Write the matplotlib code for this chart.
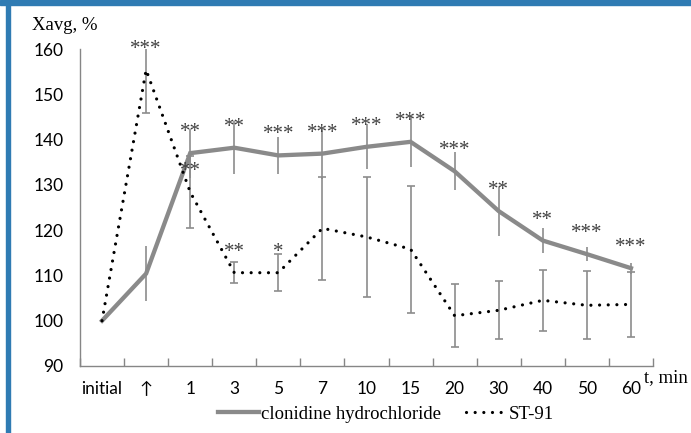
import numpy as np
import matplotlib
matplotlib.use("Agg")
import matplotlib.pyplot as plt
from matplotlib.patches import Rectangle

# ---- data ----
categories = ["initial", "\u2191", "1", "3", "5", "7", "10", "15", "20", "30", "40", "50", "60"]
clon_mean = [100, 110.4, 137.0, 138.2, 136.5, 136.9, 138.4, 139.5, 133.0, 124.2, 117.7, 114.7, 111.6]
clon_err = [0, 6.0, 5.4, 5.8, 4.1, 5.5, 5.0, 5.6, 4.2, 5.4, 2.7, 1.6, 1.2]
st_mean = [100, 155.4, 128.4, 110.6, 110.6, 120.4, 118.5, 115.8, 101.1, 102.3, 104.5, 103.4, 103.6]
st_err = [0, 9.6, 7.9, 2.35, 4.05, 11.4, 13.3, 14.0, 7.0, 6.4, 6.8, 7.5, 7.2]
clon_sig = ["", "", "**", "**", "***", "***", "***", "***", "***", "**", "**", "***", "***"]
st_sig = ["", "***", "**", "**", "*", "", "", "", "", "", "", "", ""]
yticks = [90, 100, 110, 120, 130, 140, 150, 160]

SERIF = "Liberation Serif"
SANS = ["Lato", "DejaVu Sans"]
GRAY = "#8a8a8a"
ERRC = "#8c8c8c"

W, H = 691, 433
fig = plt.figure(figsize=(W / 100, H / 100), dpi=100)
ax = fig.add_axes([80 / W, 1 - 366 / H, 573 / W, 317 / H])

x = np.arange(len(categories))

# clonidine line + error bars (no caps)
ax.plot(x, clon_mean, color=GRAY, lw=3.1, solid_joinstyle="miter", zorder=3,
        label="clonidine hydrochloride")
ax.errorbar(x[1:], clon_mean[1:], yerr=clon_err[1:], fmt="none", ecolor=ERRC,
            elinewidth=1.2, capsize=0, zorder=2)

# ST-91 dotted line + error bars (caps)
ax.plot(x, st_mean, color="black", lw=2.3, linestyle=(0, (0.01, 2.7)),
        dash_capstyle="round", zorder=4, label="ST-91")
ax.errorbar(x[1:], st_mean[1:], yerr=st_err[1:], fmt="none", ecolor=ERRC,
            elinewidth=1.2, capsize=2.6, capthick=1.2, zorder=2)

# significance labels
def stars(xs, ys, labels):
    for xi, yi, s in zip(xs, ys, labels):
        if s:
            ax.annotate(s, (xi, yi), xytext=(0, 11.5), textcoords="offset points",
                        ha="center", va="baseline", fontsize=15, family=SERIF,
                        color="#404040", zorder=6)

stars(x, clon_mean, clon_sig)
stars(x, st_mean, st_sig)

# axes styling
ax.set_xlim(-0.5, len(categories) - 0.5)
ax.set_ylim(90, 160)
ax.set_yticks(yticks)
ax.set_yticklabels([str(v) for v in yticks], family=SANS, fontsize=12.5)
ax.tick_params(axis="y", length=0, pad=12)
ax.set_xticks(x)
ax.set_xticklabels(categories, family=SANS, fontsize=12.5)
ax.set_xticks(np.arange(-0.5, len(categories)), minor=True)
ax.tick_params(axis="x", which="major", length=0, pad=11)
ax.tick_params(axis="x", which="minor", direction="in", length=6, width=1.0, color="#868686")
for sp in ["top", "right"]:
    ax.spines[sp].set_visible(False)
for sp in ["left", "bottom"]:
    ax.spines[sp].set_color("#868686")
    ax.spines[sp].set_linewidth(1.0)

# axis titles
fig.text(32 / W, 1 - 25 / H, "Xavg, %", family=SERIF, fontsize=13.5, va="center", ha="left")
fig.text(644 / W, 1 - 378 / H, "t, min", family=SERIF, fontsize=13.5, va="center", ha="left")

# legend
leg = fig.legend(loc="center", bbox_to_anchor=(386 / W, 1 - 414 / H), ncol=2, frameon=False,
                 prop={"family": SERIF, "size": 13.5}, handlelength=2.2, handletextpad=0.1,
                 columnspacing=1.3, borderaxespad=0)

# blue frame
fig.patches.append(Rectangle((0, 1 - 5 / H), 1, 5 / H, transform=fig.transFigure,
                             color="#2f7bb3", zorder=10))
fig.patches.append(Rectangle((6 / W, 0), 3.5 / W, 1, transform=fig.transFigure,
                             color="#2f7bb3", zorder=10))

fig.savefig("out.png", dpi=100)
